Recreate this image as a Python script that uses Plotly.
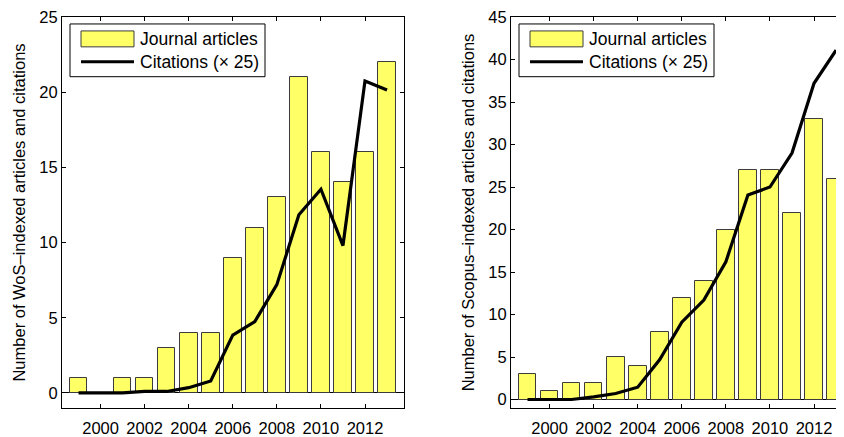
import plotly.graph_objects as go
from plotly.subplots import make_subplots

YEARS = list(range(1999, 2014))

# WoS
WOS_ARTICLES = [1, 0, 1, 1, 3, 4, 4, 9, 11, 13, 21, 16, 14, 16, 22]
WOS_CITES = [0, 0, 0, 0.1, 0.1, 0.35, 0.8, 3.85, 4.75, 7.2, 11.85, 13.55, 9.8, 20.75, 20.15]

# Scopus
SCOPUS_ARTICLES = [3, 1, 2, 2, 5, 4, 8, 12, 14, 20, 27, 27, 22, 33, 26]
SCOPUS_CITES = [0, 0, 0, 0.3, 0.7, 1.45, 4.7, 9.1, 11.7, 16.2, 24.05, 25.0, 29.0, 37.2, 41.1]

XTICKS = [2000, 2002, 2004, 2006, 2008, 2010, 2012]

FONT = "Liberation Sans, Arial, sans-serif"
YELLOW = "#ffff66"
EDGE = "#3c3c3c"

# page body has an 8px margin, so the figure is drawn 8px smaller than the window
W, H = 836, 429
ML, MT, MB = 54, 9, 27
PW, PH = W - ML, H - MT - MB

fig = make_subplots(rows=1, cols=2)

panels = [
    (1, WOS_ARTICLES, WOS_CITES, [-1, 25], [0, 5, 10, 15, 20, 25],
     "Number of WoS–indexed articles and citations", [1998.25, 2013.77], "ticks", [0, 342 / PW]),
    (2, SCOPUS_ARTICLES, SCOPUS_CITES, [-1, 45], list(range(0, 50, 5)),
     "Number of Scopus–indexed articles and citations", [1998.25, 2013.36], False, [449 / PW, 1]),
]

for col, arts, cites, yr, yt, ytitle, xr, ymirror, dom in panels:
    fig.add_trace(go.Bar(x=YEARS, y=arts, width=0.8, marker=dict(color=YELLOW, line=dict(color=EDGE, width=1)),
                         showlegend=False), row=1, col=col)
    fig.add_trace(go.Scatter(x=YEARS, y=cites, mode="lines", line=dict(color="black", width=3.2),
                             showlegend=False), row=1, col=col)
    fig.update_xaxes(range=xr, domain=dom, tickvals=XTICKS, ticks="inside", ticklen=4, tickcolor="black",
                     showline=True, linecolor="black", linewidth=1, mirror="ticks",
                     ticklabelstandoff=5, tickfont=dict(size=16.5), ticklabeloverflow="allow",
                     showgrid=False, zeroline=False, row=1, col=col)
    fig.update_yaxes(range=yr, tickvals=yt, ticks="inside", ticklen=4, tickcolor="black",
                     showline=True, linecolor="black", linewidth=1, mirror=ymirror,
                     tickfont=dict(size=16.5), ticklabeloverflow="allow",
                     showgrid=False, zeroline=True, zerolinecolor="black", zerolinewidth=1,
                     title=dict(text=ytitle, standoff=9, font=dict(size=16.5)), row=1, col=col)

# legends drawn in axis-domain coordinates (pixel offsets from the top-left corner of each axes)
for xref, yref, aw in [("x domain", "y domain", 342), ("x2 domain", "y2 domain", 333)]:
    def fx(p, aw=aw):
        return p / aw

    def fy(p):
        return 1 - p / PH

    fig.add_shape(type="rect", xref=xref, yref=yref, x0=fx(8), x1=fx(203), y0=fy(60), y1=fy(7),
                  line=dict(color="black", width=1), fillcolor="white", layer="above")
    fig.add_shape(type="rect", xref=xref, yref=yref, x0=fx(19), x1=fx(72), y0=fy(30), y1=fy(14),
                  line=dict(color=EDGE, width=1), fillcolor=YELLOW, layer="above")
    fig.add_shape(type="line", xref=xref, yref=yref, x0=fx(19), x1=fx(72), y0=fy(45), y1=fy(45),
                  line=dict(color="black", width=3.2), layer="above")
    fig.add_annotation(xref=xref, yref=yref, x=fx(76), y=fy(22), text="Journal articles",
                       showarrow=False, xanchor="left", yanchor="middle", font=dict(size=17.5))
    fig.add_annotation(xref=xref, yref=yref, x=fx(76), y=fy(45), text="Citations (× 25)",
                       showarrow=False, xanchor="left", yanchor="middle", font=dict(size=17.5))

fig.update_layout(
    width=W, height=H,
    margin=dict(l=ML, r=0, t=MT, b=MB),
    paper_bgcolor="white", plot_bgcolor="white",
    font=dict(family=FONT, size=16, color="black"),
    bargap=0,
)

fig.write_html("out.html")
